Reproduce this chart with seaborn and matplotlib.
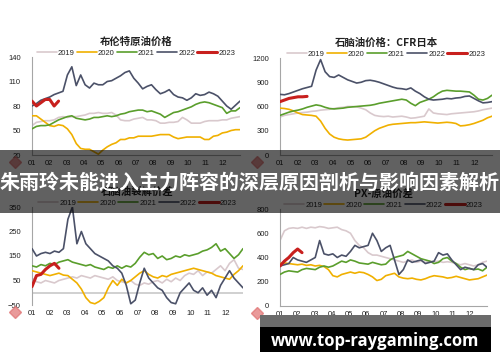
import numpy as np
import pandas as pd
import matplotlib
matplotlib.use("Agg")
import matplotlib.pyplot as plt
import seaborn as sns
from matplotlib.lines import Line2D
from matplotlib.patches import Rectangle

years = ["2019", "2020", "2021", "2022", "2023"]
months = ["01", "02", "03", "04", "05", "06", "07", "08", "09", "10", "11", "12"]
colors = ["#d9c9cd", "#f0b000", "#5a9e2c", "#4b5168", "#c8201e"]

# 布伦特原油价格 (4 points per month)
brent_2019 = [56, 60, 61, 62, 62, 63, 66, 67, 66, 67, 67, 68, 69, 71, 71, 72, 71, 71, 72, 69,
              63, 62, 62, 64, 65, 66, 63, 63, 62, 59, 59, 60, 60, 61, 66, 63, 59, 59, 59, 61,
              62, 62, 62, 63, 63, 65, 66, 67]
brent_2020 = [68, 68, 64, 60, 56, 55, 57, 56, 52, 45, 34, 28, 27, 27, 24, 21, 26, 30, 33, 35,
              39, 39, 41, 41, 43, 43, 43, 43, 44, 45, 45, 45, 42, 40, 41, 42, 42, 42, 42, 39,
              39, 43, 44, 47, 48, 50, 51, 51]
brent_2021 = [52, 55, 56, 56, 57, 60, 63, 65, 67, 68, 65, 64, 63, 64, 66, 66, 67, 68, 67, 68,
              70, 71, 73, 74, 75, 75, 73, 74, 72, 70, 66, 69, 72, 73, 75, 77, 79, 82, 84, 85,
              84, 82, 80, 78, 71, 74, 74, 78]
brent_2022 = [80, 83, 87, 89, 91, 94, 96, 98, 118, 128, 105, 118, 106, 102, 108, 106, 106, 110,
              111, 114, 117, 121, 123, 114, 108, 101, 104, 106, 100, 95, 97, 100, 94, 91, 90, 87,
              90, 95, 93, 94, 97, 95, 92, 86, 80, 76, 81, 86]
brent_2023 = [86, 80, 84, 88, 88, 80, 86]

# 石脑油价格：CFR日本
naph_2019 = [470, 490, 500, 510, 520, 525, 530, 540, 545, 555, 560, 565, 575, 585, 590, 600,
             600, 595, 580, 560, 520, 490, 480, 475, 480, 470, 475, 480, 470, 455, 460, 470,
             480, 570, 520, 510, 505, 500, 510, 515, 520, 525, 530, 535, 545, 560, 570, 580]
naph_2020 = [580, 575, 565, 545, 520, 500, 495, 490, 480, 420, 330, 260, 220, 200, 190, 185,
             190, 195, 200, 220, 260, 300, 330, 350, 370, 380, 385, 390, 395, 400, 400, 405,
             410, 405, 400, 395, 400, 405, 400, 390, 360, 365, 375, 390, 410, 430, 460, 480]
naph_2021 = [490, 510, 530, 545, 555, 570, 590, 605, 620, 610, 590, 575, 570, 575, 580, 590,
             595, 600, 605, 610, 615, 625, 640, 650, 660, 670, 680, 690, 680, 640, 610, 650,
             670, 690, 720, 760, 790, 800, 795, 790, 790, 785, 780, 740, 690, 680, 700, 740]
naph_2022 = [750, 745, 760, 780, 800, 820, 835, 850, 1050, 1180, 1030, 970, 960, 990, 960, 930,
             910, 890, 900, 920, 925, 915, 900, 880, 860, 840, 825, 820, 810, 830, 790, 760,
             720, 690, 680, 685, 690, 700, 695, 705, 710, 725, 730, 700, 670, 645, 650, 660]
naph_2023 = [660, 680, 700, 710, 720, 720, 725]

# 石脑油裂解价差
crack_2019 = [60, 45, 40, 50, 45, 40, 50, 55, 60, 65, 60, 70, 65, 60, 70, 65, 60, 55, 65, 50,
              45, 40, 50, 35, 30, 40, 35, 45, 50, 40, 55, 45, 60, 50, 70, 80, 75, 90, 70, 85,
              80, 95, 110, 90, 120, 135, 100, 95]
crack_2020 = [90, 85, 80, 75, 70, 75, 80, 72, 70, 55, 40, 15, -20, -40, -45, -35, -20, 20, 50, 30,
              55, 40, 50, 65, 80, 90, 75, 65, 60, 70, 65, 75, 80, 85, 90, 95, 100, 95, 90, 85,
              80, 70, 65, 60, 55, 75, 90, 110]
crack_2021 = [110, 105, 115, 110, 120, 115, 125, 130, 135, 125, 120, 115, 110, 115, 105, 100,
              95, 105, 100, 110, 100, 110, 105, 120, 145, 165, 155, 160, 140, 150, 135, 140,
              150, 145, 155, 150, 155, 160, 170, 175, 185, 200, 170, 180, 160, 140, 155, 180]
crack_2022 = [180, 150, 160, 165, 160, 170, 165, 180, 300, 350, 200, 250, 200, 180, 160, 150,
              140, 130, 110, 100, 80, 30, -45, -30, 40, 100, 60, 40, 20, 10, -20, -40,
              -45, 0, 20, 40, 10, 0, 20, -10, 10, -20, 30, 60, 90, 60, 40, 20]
crack_2023 = [25, 70, 75, 95, 110, 120, 100]

# PX-原油价差
px_2019 = [540, 620, 640, 645, 640, 650, 640, 650, 645, 655, 650, 640, 645, 650, 630, 620,
           600, 540, 500, 480, 440, 420, 420, 410, 400, 390, 380, 370, 360, 370, 380, 360,
           370, 360, 370, 365, 370, 360, 365, 360, 350, 340, 350, 340, 330, 340, 360, 370]
px_2020 = [350, 355, 350, 345, 340, 345, 335, 340, 330, 335, 325, 300, 250, 240, 260, 270,
           280, 270, 280, 275, 260, 240, 210, 220, 250, 260, 270, 240, 230, 225, 230, 220,
           215, 225, 240, 250, 245, 240, 230, 235, 245, 235, 225, 215, 220, 225, 240, 255]
px_2021 = [260, 280, 290, 285, 280, 300, 310, 305, 300, 320, 330, 320, 330, 350, 370, 360,
           380, 370, 355, 350, 345, 360, 350, 340, 345, 380, 400, 410, 420, 450, 430, 410,
           390, 380, 370, 350, 360, 390, 400, 370, 350, 320, 300, 310, 300, 305, 290, 320]
px_2022 = [330, 340, 350, 400, 380, 370, 360, 380, 400, 540, 430, 420, 430, 400, 420, 410,
           450, 500, 480, 490, 500, 600, 540, 450, 480, 500, 380, 260, 300, 380, 360, 370,
           380, 350, 360, 370, 440, 420, 430, 380, 340, 300, 320, 310, 300, 340, 350, 320]
px_2023 = [330, 370, 400, 440, 470, 440]

panels = [
    ("布伦特原油价格", [brent_2019, brent_2020, brent_2021, brent_2022, brent_2023],
     (20, 140), [20, 50, 80, 110, 140], [32, 57, 240, 155], False),
    ("石脑油价格：CFR日本", [naph_2019, naph_2020, naph_2021, naph_2022, naph_2023],
     (0, 1200), [0, 300, 600, 900, 1200], [280, 58, 492, 155], False),
    ("石脑油裂解价差", [crack_2019, crack_2020, crack_2021, crack_2022, crack_2023],
     (-50, 350), [-50, 50, 150, 250, 350], [32, 207, 243, 305], True),
    ("PX-原油价差", [px_2019, px_2020, px_2021, px_2022, px_2023],
     (0, 800), [0, 200, 400, 600, 800], [280, 209, 487, 306], False),
]

sns.set_theme(style="white")
plt.rcParams["font.family"] = ["Liberation Sans", "Noto Sans CJK SC", "DejaVu Sans"]

W, H = 500, 362
fig = plt.figure(figsize=(W / 100, H / 100), dpi=100)
step = 12 / 47

for title, series, ylim, yticks, box, zero_axis in panels:
    x0, y0, x1, y1 = box
    ax = fig.add_axes([x0 / W, 1 - y1 / H, (x1 - x0) / W, (y1 - y0) / H])
    for i, (yr, vals) in enumerate(zip(years, series)):
        x = np.arange(len(vals)) * step
        sns.lineplot(x=x, y=vals, ax=ax, color=colors[i], label=yr,
                     linewidth=2.2 if yr == "2023" else 1.2, zorder=2 + i)
    ax.set_xlim(0, 12)
    ax.set_ylim(*ylim)
    ax.set_yticks(yticks)
    ax.set_xticks(range(12))
    ax.set_xticklabels(months)
    sns.despine(ax=ax)
    for s in ("left", "bottom"):
        ax.spines[s].set_color("#a6a6a6")
        ax.spines[s].set_linewidth(0.8)
    ax.tick_params(axis="y", length=0, pad=8, labelsize=5.5, labelcolor="#222222")
    ax.tick_params(axis="x", direction="in", length=2, width=0.6, color="#a6a6a6",
                   pad=3.5, labelsize=5.5, labelcolor="#222222")
    if zero_axis:
        ax.spines["bottom"].set_visible(False)
        ax.tick_params(axis="x", length=0)
        ax.axhline(0, color="#c8c8c8", linewidth=1.2, zorder=1)
    ax.set_xlabel("")
    ax.set_ylabel("")
    ax.legend(loc="lower center", bbox_to_anchor=(0.5, 1.0), ncol=5, frameon=False,
              fontsize=5.5, handlelength=2.6, handletextpad=0.15, columnspacing=0.3,
              borderpad=0, borderaxespad=0.05)
    ax.text(0.5, 1 + 15 / (y1 - y0), title, transform=ax.transAxes, ha="center",
            va="center", fontsize=7.5, fontweight="bold",
            family=["Noto Sans CJK SC", "DejaVu Sans"], color="#222222")

# small logo marks
for lx, ly in [(15, 162), (257, 162), (15, 312), (257, 313)]:
    fig.add_artist(Line2D([lx / W], [1 - ly / H], marker="D", markersize=6.5,
                          color="#e07070", alpha=0.7, transform=fig.transFigure))

# banner overlay
fig.add_artist(Rectangle((0, 1 - 213 / H), 1, 63 / H, transform=fig.transFigure,
                         facecolor="black", alpha=0.62, edgecolor="none", zorder=10))
fig.text(0.5, 1 - 182 / H, "朱雨玲未能进入主力阵容的深层原因剖析与影响因素解析",
         ha="center", va="center", color="white", fontsize=14.4, fontweight="bold",
         family=["Noto Sans CJK SC", "DejaVu Sans"], zorder=11)

# site watermark
fig.add_artist(Rectangle((260 / W, 1 - 327 / H), 231 / W, 12 / H, transform=fig.transFigure,
                         facecolor="#6b6b6b", edgecolor="none", zorder=10))
fig.add_artist(Rectangle((260 / W, 1 - 352 / H), 231 / W, 25 / H, transform=fig.transFigure,
                         facecolor="black", edgecolor="none", zorder=10))
fig.text(375.5 / W, 1 - 341 / H, "www.top-raygaming.com", ha="center", va="center",
         color="white", fontsize=12, fontweight="bold", family=["Open Sans", "DejaVu Sans"],
         zorder=11)

fig.savefig("out.png", dpi=100)
